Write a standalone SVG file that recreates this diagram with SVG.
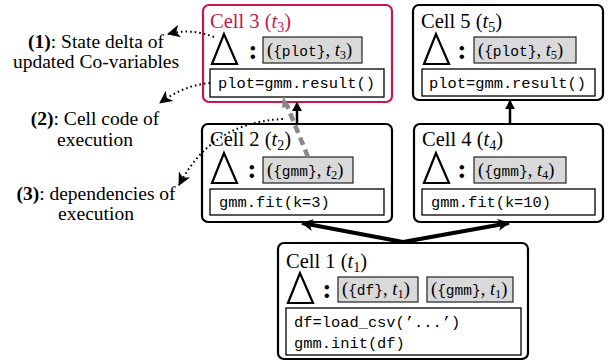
<svg xmlns="http://www.w3.org/2000/svg" width="616" height="362" viewBox="0 0 616 362">
<defs>
<style>
.cell{fill:#fff;stroke:#000;stroke-width:2.2}
.cell.hl{stroke:#c8174f}
.code{fill:#fff;stroke:#000;stroke-width:1.3}
.gray{fill:#d9d9d9;stroke:#222;stroke-width:1.2}
.tri{fill:none;stroke:#000;stroke-width:2.2;stroke-linejoin:miter}
.title{font-family:"Liberation Serif",serif;font-size:20.5px;fill:#000}
.title.hl{fill:#c8174f}
.mono{font-family:"Liberation Mono",monospace;font-size:15.4px;fill:#000}
.gtxt{font-family:"Liberation Serif",serif;font-size:18.5px;fill:#000}
.gm{font-family:"Liberation Mono",monospace;font-size:14.5px}
.colon{font-family:"Liberation Serif",serif;font-size:28px;font-weight:bold;text-anchor:middle}
.lbl{font-family:"Liberation Serif",serif;font-size:19.5px;fill:#000;text-anchor:middle}
.thick{stroke:#000;stroke-width:4;fill:none}
.up{stroke:#000;stroke-width:2.5;fill:none}
.dot{stroke:#000;stroke-width:2;fill:none;stroke-dasharray:1.6 3}
.dash{stroke:#888;stroke-width:4.5;fill:none;stroke-dasharray:8 5}
</style>
<marker id="ah" markerUnits="userSpaceOnUse" markerWidth="14" markerHeight="12" refX="11" refY="6" orient="auto"><path d="M0,0 L12,6 L0,12 L3,6 Z" fill="#000"/></marker>
<marker id="ahs" markerUnits="userSpaceOnUse" markerWidth="10" markerHeight="10" refX="8" refY="5" orient="auto"><path d="M0,0 L9,5 L0,10 Z" fill="#000"/></marker>
<marker id="ahd" markerUnits="userSpaceOnUse" markerWidth="15" markerHeight="13" refX="12" refY="6.5" orient="auto"><path d="M0,0 L13,6.5 L0,13 L3.5,6.5 Z" fill="#000"/></marker>
</defs>

<g id="labels">
<text class="lbl" x="96" y="48"><tspan font-weight="bold">(1)</tspan>: State delta of</text>
<text class="lbl" x="96" y="68">updated Co-variables</text>
<text class="lbl" x="95" y="125"><tspan font-weight="bold">(2)</tspan>: Cell code of</text>
<text class="lbl" x="95" y="146">execution</text>
<text class="lbl" x="96" y="200"><tspan font-weight="bold">(3)</tspan>: dependencies of</text>
<text class="lbl" x="96" y="220">execution</text>
</g>

<g id="cell3">
<rect class="cell hl" x="203" y="5" width="189" height="97" rx="6"/>
<text class="title hl" x="210" y="28">Cell 3 (<tspan font-style="italic">t</tspan><tspan font-size="14" dy="4">3</tspan><tspan dy="-4">)</tspan></text>
<polygon class="tri" points="224,34 212,64 237,64"/>
<text class="colon" x="253" y="59">:</text>
<rect class="gray" x="263" y="37" width="99" height="26"/>
<text class="gtxt" x="267" y="56">(<tspan class="gm">{plot}</tspan>, <tspan font-style="italic">t</tspan><tspan font-size="12.5" dy="3">3</tspan><tspan dy="-3">)</tspan></text>
<rect class="code" x="210" y="69" width="174" height="28"/>
<text class="mono" x="218" y="88">plot=gmm.result()</text>
</g>

<g id="cell5">
<rect class="cell" x="413" y="5" width="190" height="95" rx="6"/>
<text class="title" x="421" y="28">Cell 5 (<tspan font-style="italic">t</tspan><tspan font-size="14" dy="4">5</tspan><tspan dy="-4">)</tspan></text>
<polygon class="tri" points="436,34 424,64 449,64"/>
<text class="colon" x="462" y="59">:</text>
<rect class="gray" x="474" y="37" width="102" height="26"/>
<text class="gtxt" x="478" y="56">(<tspan class="gm">{plot}</tspan>, <tspan font-style="italic">t</tspan><tspan font-size="12.5" dy="3">5</tspan><tspan dy="-3">)</tspan></text>
<rect class="code" x="422" y="69" width="173" height="27"/>
<text class="mono" x="429" y="88">plot=gmm.result()</text>
</g>

<g id="cell2">
<rect class="cell" x="202" y="124" width="190" height="98" rx="6"/>
<text class="title" x="210" y="146">Cell 2 (<tspan font-style="italic">t</tspan><tspan font-size="14" dy="4">2</tspan><tspan dy="-4">)</tspan></text>
<polygon class="tri" points="224,153 212,183 237,183"/>
<text class="colon" x="252" y="178">:</text>
<rect class="gray" x="263" y="157" width="90" height="26"/>
<text class="gtxt" x="267" y="176">(<tspan class="gm">{gmm}</tspan>, <tspan font-style="italic">t</tspan><tspan font-size="12.5" dy="3">2</tspan><tspan dy="-3">)</tspan></text>
<rect class="code" x="210" y="189" width="174" height="26"/>
<text class="mono" x="219" y="207">gmm.fit(k=3)</text>
</g>

<g id="cell4">
<rect class="cell" x="414" y="124" width="189" height="98" rx="6"/>
<text class="title" x="422" y="146">Cell 4 (<tspan font-style="italic">t</tspan><tspan font-size="14" dy="4">4</tspan><tspan dy="-4">)</tspan></text>
<polygon class="tri" points="436,153 424,183 449,183"/>
<text class="colon" x="462" y="178">:</text>
<rect class="gray" x="474" y="157" width="92" height="26"/>
<text class="gtxt" x="478" y="176">(<tspan class="gm">{gmm}</tspan>, <tspan font-style="italic">t</tspan><tspan font-size="12.5" dy="3">4</tspan><tspan dy="-3">)</tspan></text>
<rect class="code" x="422" y="189" width="173" height="26"/>
<text class="mono" x="431" y="207">gmm.fit(k=10)</text>
</g>

<g id="cell1">
<rect class="cell" x="278" y="243" width="250" height="116" rx="6"/>
<text class="title" x="286" y="268">Cell 1 (<tspan font-style="italic">t</tspan><tspan font-size="14" dy="4">1</tspan><tspan dy="-4">)</tspan></text>
<polygon class="tri" points="300,273 288,303 313,303"/>
<text class="colon" x="327" y="298">:</text>
<rect class="gray" x="338" y="277" width="80" height="25"/>
<text class="gtxt" x="342" y="295">(<tspan class="gm">{df}</tspan>, <tspan font-style="italic">t</tspan><tspan font-size="12.5" dy="3">1</tspan><tspan dy="-3">)</tspan></text>
<rect class="gray" x="427" y="277" width="86" height="25"/>
<text class="gtxt" x="431" y="295">(<tspan class="gm">{gmm}</tspan>, <tspan font-style="italic">t</tspan><tspan font-size="12.5" dy="3">1</tspan><tspan dy="-3">)</tspan></text>
<rect class="code" x="286" y="308" width="235" height="47"/>
<text class="mono" x="294" y="327">df=load_csv(’...’)</text>
<text class="mono" x="294" y="348">gmm.init(df)</text>
</g>

<g id="connectors">
<path class="thick" d="M403,242 L302,223" marker-end="url(#ah)"/>
<path class="thick" d="M403,242 L509,223" marker-end="url(#ah)"/>
<path class="up" d="M297,123 L297,103" marker-end="url(#ahs)"/>
<path class="up" d="M510,123 L510,101" marker-end="url(#ahs)"/>
<path class="dash" d="M308,157 L286,103"/>
<path d="M289,106 L283,96 L282,108 Z" fill="#888"/>
<path class="dot" d="M214,37 Q192,28 168,34" marker-end="url(#ahd)"/>
<path class="dot" d="M210,83 Q184,85 160,103" marker-end="url(#ahd)"/>
<path class="dot" d="M283,119 Q212,122 179,185" marker-end="url(#ahd)"/>
</g>
</svg>
